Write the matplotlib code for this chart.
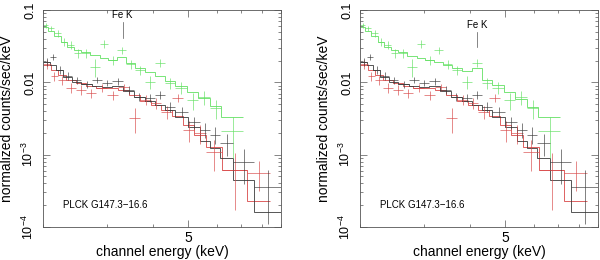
import numpy as np
import matplotlib
matplotlib.use("Agg")
import matplotlib.pyplot as plt
from matplotlib.ticker import FixedLocator, NullFormatter

plt.rcParams['font.family'] = ['Liberation Sans', 'DejaVu Sans']
plt.rcParams['mathtext.fontset'] = 'custom'
plt.rcParams['mathtext.rm'] = 'Liberation Sans'
plt.rcParams['mathtext.it'] = 'Liberation Sans:italic'

# --- data (keV bins, normalized counts/sec/keV) ---
# black (MOS1)
black_edges = [2.00, 2.09, 2.17, 2.27, 2.40, 2.55, 2.72, 2.90, 3.10, 3.32, 3.55,
               3.80, 4.05, 4.32, 4.62, 5.00, 5.40, 5.74, 6.11, 6.65, 7.60, 9.00]
black_model = [0.0191, 0.0175, 0.0148, 0.0118, 0.0101, 0.0095, 0.0090, 0.0087, 0.0088, 0.0075,
               0.0062, 0.0055, 0.0048, 0.0041, 0.0033, 0.0024, 0.00155, 0.00124, 0.00091, 0.00044, 0.00016]
black_data = [0.0191, 0.0224, 0.0148, 0.0123, 0.0108, 0.0095, 0.0108, 0.0098, 0.0104, 0.0079,
              0.0063, 0.0061, 0.0067, 0.0046, 0.0039, 0.0028, 0.0022, 0.0019, 0.00146, 0.00079, 0.00036]
black_err = [0.0025, 0.0022, 0.0018, 0.0014, 0.0012, 0.0011, 0.0011, 0.0010, 0.0011, 0.0009,
             0.0008, 0.0008, 0.0008, 0.0007, 0.0006, 0.0005, 0.0005, 0.0005, 0.0005, 0.0004, 0.00025]

# red (MOS2)
red_edges = [2.00, 2.10, 2.20, 2.32, 2.46, 2.62, 2.80, 3.00, 3.22, 3.45, 3.70,
             3.95, 4.22, 4.52, 4.85, 5.20, 5.60, 6.20, 7.25, 8.40]
red_model = [0.0174, 0.0148, 0.0127, 0.0108, 0.0098, 0.0089, 0.0084, 0.0084, 0.0079, 0.0067,
             0.0055, 0.0049, 0.0042, 0.0034, 0.0026, 0.0019, 0.00128, 0.00062, 0.00023]
red_data = [0.0179, 0.0123, 0.0108, 0.0084, 0.0079, 0.0071, 0.0084, 0.0067, 0.0086, 0.0032,
            0.0057, 0.0052, 0.0039, 0.0061, 0.0022, 0.0020, 0.0011, 0.00062, 0.00056]
red_err = [0.0025, 0.0018, 0.0015, 0.0013, 0.0012, 0.0011, 0.0011, 0.0010, 0.0010, 0.0012,
           0.0009, 0.0009, 0.0008, 0.0008, 0.0007, 0.0006, 0.0005, 0.00045, 0.00025]

# green (pn)
green_edges = [2.00, 2.07, 2.15, 2.24, 2.33, 2.43, 2.55, 2.70, 2.86, 3.02, 3.20,
               3.38, 3.58, 3.80, 4.05, 4.32, 4.62, 4.97, 5.33, 5.74, 6.17, 7.10]
green_model_left = [0.058, 0.051, 0.044, 0.036, 0.031, 0.028, 0.0263, 0.0239, 0.0217, 0.0204,
                    0.0224, 0.0185, 0.0158, 0.0139, 0.0123, 0.0105, 0.0089, 0.0074, 0.0061, 0.0047, 0.0033]
green_model_right = [0.058, 0.051, 0.044, 0.036, 0.031, 0.028, 0.0263, 0.0232, 0.0217, 0.0204,
                     0.0190, 0.0174, 0.0160, 0.0144, 0.0158, 0.0108, 0.0092, 0.0074, 0.0058, 0.0046, 0.0033]
green_data = [0.062, 0.056, 0.048, 0.036, 0.033, 0.0255, 0.0255, 0.0163, 0.034, 0.0204,
              0.028, 0.018, 0.0148, 0.0101, 0.0185, 0.0098, 0.0084, 0.0057, 0.0063, 0.0044, 0.0021]
green_err = [0.005, 0.005, 0.005, 0.0045, 0.004, 0.0035, 0.0035, 0.0045, 0.004, 0.003,
             0.003, 0.0025, 0.0022, 0.002, 0.0022, 0.0018, 0.0016, 0.0015, 0.0014, 0.0013, 0.0012]

# Fe K line marker: energy, line top/bottom, label height
fe_k_left = [3.31, 0.068, 0.041, 0.085]
fe_k_right = [4.19, 0.0497, 0.0308, 0.062]

source_name = 'PLCK G147.3\u221216.6'
ytick_vals = [1e-4, 1e-3, 1e-2, 0.1]
ytick_labels = ['$10^{-4}$', '$10^{-3}$', '0.01', '0.1']

c_black = '#3a3a3a'
c_red = '#d84848'
c_green = '#62e062'


def draw_set(ax, edges, model, data, err, color):
    edges = np.array(edges)
    centers = 0.5 * (edges[:-1] + edges[1:])
    half = 0.5 * (edges[1:] - edges[:-1])
    ax.errorbar(centers, data, xerr=half, yerr=err, fmt='none',
                ecolor=color, elinewidth=0.45, capsize=0)
    ax.stairs(model, edges, color=color, lw=0.6, baseline=None)


def panel(ax, green_model, fe_k):
    draw_set(ax, green_edges, green_model, green_data, green_err, c_green)
    draw_set(ax, red_edges, red_model, red_data, red_err, c_red)
    draw_set(ax, black_edges, black_model, black_data, black_err, c_black)

    ax.set_xscale('log')
    ax.set_yscale('log')
    ax.set_xlim(2.0, 9.0)
    ax.set_ylim(1e-4, 0.1)

    ax.xaxis.set_major_locator(FixedLocator([5]))
    ax.xaxis.set_minor_locator(FixedLocator([2, 3, 4, 6, 7, 8, 9]))
    ax.set_xticklabels(['5'])
    ax.xaxis.set_minor_formatter(NullFormatter())
    ax.yaxis.set_major_locator(FixedLocator(ytick_vals))
    ax.set_yticklabels(ytick_labels, rotation=90, va='center')
    ax.yaxis.set_minor_formatter(NullFormatter())

    ax.tick_params(which='both', direction='in', top=True, right=True,
                   width=0.5, color='#555555')
    ax.tick_params(which='major', length=5)
    ax.tick_params(which='minor', length=2.5)
    ax.tick_params(axis='x', labelsize=10, pad=3)
    ax.tick_params(axis='y', labelsize=9, pad=5)
    for s in ax.spines.values():
        s.set_linewidth(0.6)
        s.set_color('#555555')

    ax.set_xlabel('channel energy (keV)', fontsize=10, labelpad=0)
    ax.set_ylabel('normalized counts/sec/keV', fontsize=10, labelpad=5)

    ax.plot([fe_k[0], fe_k[0]], [fe_k[1], fe_k[2]], color='#555555', lw=0.5)
    ax.text(fe_k[0], fe_k[3], 'Fe K', fontsize=7, ha='center', va='center')
    ax.text(0.084, 0.10, source_name, transform=ax.transAxes, fontsize=7,
            ha='left', va='center')


fig = plt.figure(figsize=(6.0, 2.6), dpi=100)
ax1 = fig.add_axes([43 / 600, 1 - 227 / 260, 238 / 600, 217 / 260])
ax2 = fig.add_axes([360 / 600, 1 - 227 / 260, 238 / 600, 217 / 260])
panel(ax1, green_model_left, fe_k_left)
panel(ax2, green_model_right, fe_k_right)

fig.savefig('out.png', dpi=100)
